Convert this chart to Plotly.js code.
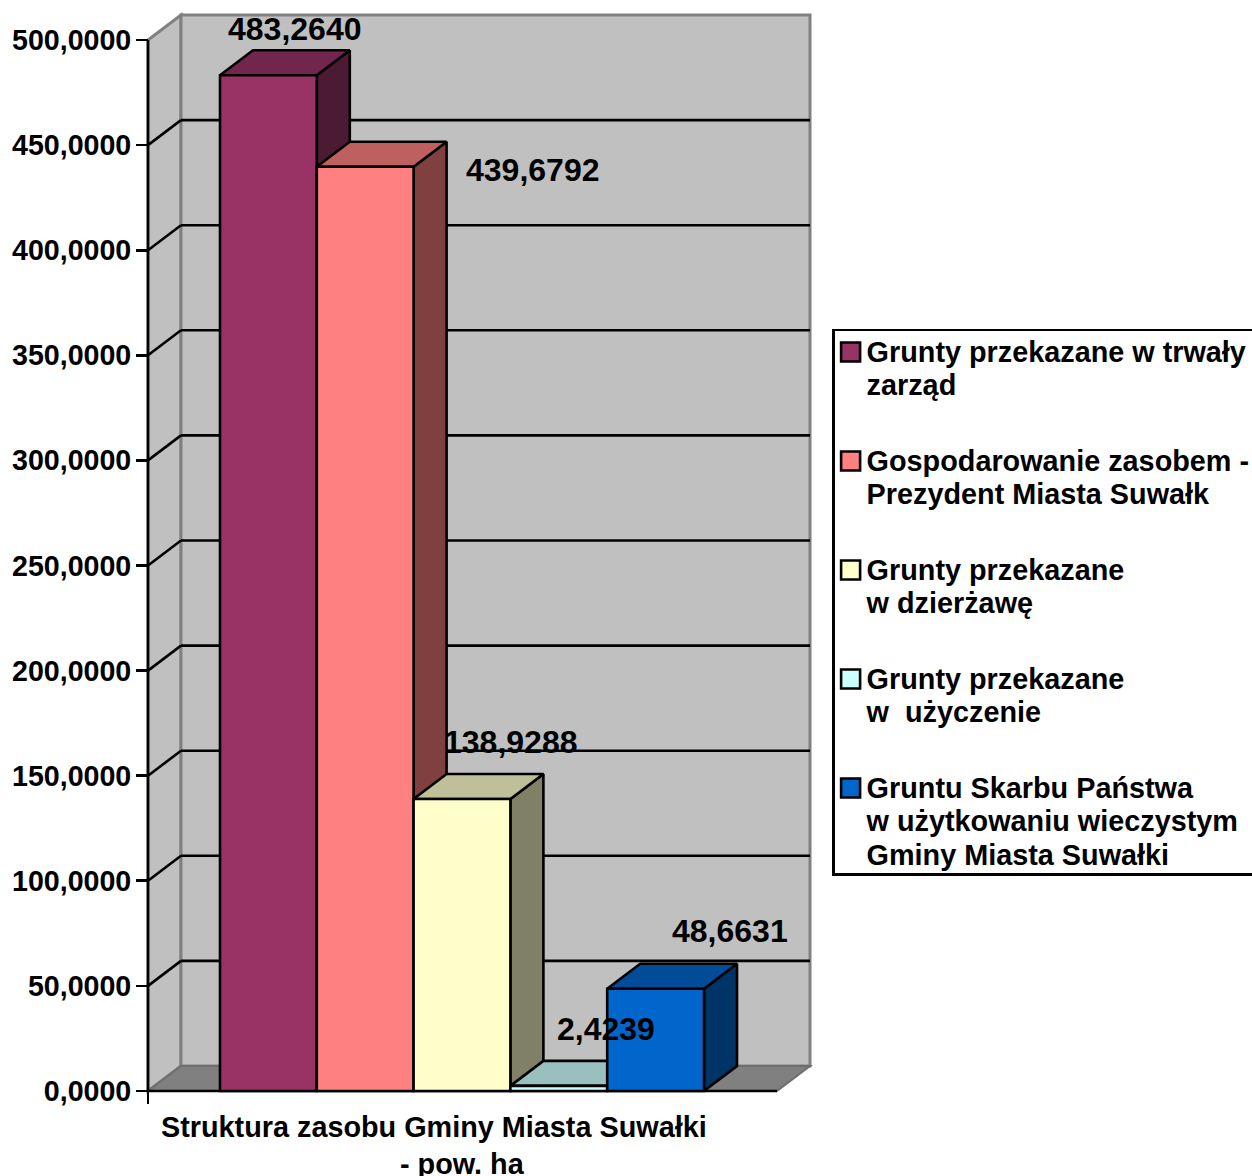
<!DOCTYPE html>
<html>
<head>
<meta charset="utf-8">
<script src="https://cdn.plot.ly/plotly-3.0.1.min.js"></script>
<style>html,body{margin:0;padding:0;background:#fff;overflow:hidden}</style>
</head>
<body>
<div id="chart" style="width:1252px;height:1176px"></div>
<script>
// ---- data ----
const seriesNames = [
  "Grunty przekazane w trwały<br>zarząd",
  "Gospodarowanie zasobem -<br>Prezydent Miasta Suwałk",
  "Grunty przekazane<br>w dzierżawę",
  "Grunty przekazane<br>w\u00A0 użyczenie",
  "Gruntu Skarbu Państwa<br>w użytkowaniu wieczystym<br>Gminy Miasta Suwałki"
];
const seriesValues = [483.2640, 439.6792, 138.9288, 2.4239, 48.6631];
const valueLabels = ["483,2640", "439,6792", "138,9288", "2,4239", "48,6631"];
const tickValues = [0, 50, 100, 150, 200, 250, 300, 350, 400, 450, 500];
const tickLabels = ["0,0000", "50,0000", "100,0000", "150,0000", "200,0000", "250,0000", "300,0000", "350,0000", "400,0000", "450,0000", "500,0000"];
const categoryLines = ["Struktura zasobu Gminy Miasta Suwałki", "- pow. ha"];

// ---- styles ----
const frontColors = ["#993366", "#FF8080", "#FFFFCC", "#CCFFFF", "#0066CC"];
const topColors   = ["#73264D", "#BF6060", "#BFBF99", "#99BFBF", "#004C99"];
const sideColors  = ["#4D1A33", "#804040", "#808066", "#668080", "#003366"];
const FONT = "Liberation Sans, Arial, sans-serif";
const W = 1252, H = 1176, EDGE = 2.6;

// pixel frame of the chart -> axis ranges
const pitch = 96.8, x0px = 268.4, unit = 2.102, basePx = 1091;
const plotL = 140, plotR = 820, plotT = 5, plotB = 1100;
const xv = px => (px - x0px) / pitch;
const yv = px => (basePx - px) / unit;
const DX = 33 / pitch, DY = 25 / unit;
const xL = xv(148), xR = xv(777);
const xRange = [xv(plotL), xv(plotR)], yRange = [yv(plotB), yv(plotT)];
const xDom = [plotL / W, plotR / W], yDom = [1 - plotB / H, 1 - plotT / H];

const poly = (pts, fill, lineColor, lw) => ({
  type: "path", xref: "x", yref: "y", layer: "below",
  path: "M" + pts.map(p => p[0] + "," + p[1]).join("L") + "Z",
  fillcolor: fill, line: {color: lineColor, width: lw}
});
const seg = (x1, y1, x2, y2, color, lw) => ({
  type: "line", xref: "x", yref: "y", layer: "below",
  x0: x1, y0: y1, x1: x2, y1: y2, line: {color: color, width: lw}
});

const maxTick = tickValues[tickValues.length - 1];
const shapes = [
  poly([[xL, 0], [xL + DX, DY], [xL + DX, maxTick + DY], [xL, maxTick]], "#C0C0C0", "#808080", 3),
  poly([[xL + DX, DY], [xR + DX, DY], [xR + DX, maxTick + DY], [xL + DX, maxTick + DY]], "#C0C0C0", "#808080", 3),
  poly([[xL, 0], [xL + DX, DY], [xR + DX, DY], [xR, 0]], "#808080", "#6E6E6E", 2)
];
tickValues.slice(1, -1).forEach(v => {
  shapes.push(seg(xL, v, xL + DX, v + DY, "#000", EDGE));
  shapes.push(seg(xL + DX, v + DY, xR + DX, v + DY, "#000", EDGE));
});
shapes.push(seg(xL, 0, xL, maxTick, "#000", EDGE));
shapes.push(seg(xL, 0, xR, 0, "#000", EDGE));

// side and top faces go first, front faces sit on an overlaying subplot
const traces = [];
const face = (xs, ys, color) => traces.push({
  type: "scatter", mode: "lines", x: xs, y: ys, fill: "toself", fillcolor: color,
  line: {color: "#000", width: EDGE}, showlegend: false, hoverinfo: "skip", xaxis: "x", yaxis: "y"
});
seriesValues.forEach((v, i) => {
  const r = i + 0.5;
  face([r, r + DX, r + DX, r, r], [0, DY, v + DY, v, 0], sideColors[i]);
});
seriesValues.forEach((v, i) => {
  const l = i - 0.5, r = i + 0.5;
  face([l, l + DX, r + DX, r, l], [v, v + DY, v + DY, v, v], topColors[i]);
});
seriesValues.forEach((v, i) => traces.push({
  type: "bar", x: [i], y: [v], width: 1, name: seriesNames[i],
  legendgroup: "g" + i, xaxis: "x2", yaxis: "y2", hoverinfo: "skip",
  marker: {color: frontColors[i], line: {color: "#000", width: EDGE}}
}));

// label offsets from each bar's front-top centre
const labelOffsets = [[26, 46], [167, -3], [48, 57], [47, 57], [74, 58]];
const annotations = seriesValues.map((v, i) => ({
  xref: "x", yref: "y", x: i, y: v, text: valueLabels[i], showarrow: false,
  xanchor: "center", yanchor: "middle",
  xshift: labelOffsets[i][0], yshift: labelOffsets[i][1],
  font: {family: FONT, size: 32, color: "#000", weight: 700}
}));
const categoryX = [434, 462], categoryShift = [-18, -55];
categoryLines.forEach((t, i) => annotations.push({
  xref: "x", yref: "y", x: xv(categoryX[i]), y: 0, text: t, showarrow: false,
  xanchor: "center", yanchor: "top", yshift: categoryShift[i],
  font: {family: FONT, size: 28.8, color: "#000", weight: 700}
}));

const hiddenX = {domain: xDom, range: xRange, visible: false, overlaying: "x", fixedrange: true};
const hiddenY = {domain: yDom, range: yRange, visible: false, overlaying: "y", fixedrange: true};

const layout = {
  width: W, height: H, margin: {l: 0, r: 0, t: 0, b: 0, autoexpand: false},
  paper_bgcolor: "#fff", plot_bgcolor: "rgba(0,0,0,0)",
  barmode: "overlay", showlegend: true, hovermode: false,
  font: {family: FONT, color: "#000"},
  xaxis: {domain: xDom, range: xRange, anchor: "free", position: 1 - basePx / H, showgrid: false, zeroline: false, showline: false,
          tickmode: "array", tickvals: [xL], ticktext: [""], ticks: "outside", ticklen: 12, tickwidth: EDGE, tickcolor: "#000", fixedrange: true},
  yaxis: {domain: yDom, range: yRange, anchor: "free", position: 148 / W, showgrid: false, zeroline: false, showline: false,
          tickmode: "array", tickvals: tickValues, ticktext: tickLabels, ticks: "outside", ticklen: 12, tickwidth: EDGE, tickcolor: "#000",
          ticklabelstandoff: -1,
          tickfont: {family: FONT, size: 28.6, color: "#000", weight: 700}, fixedrange: true},
  xaxis2: hiddenX, yaxis2: hiddenY,
  legend: {x: 832 / W, y: 1 - 328.5 / H, xanchor: "left", yanchor: "top", bgcolor: "#fff", bordercolor: "#000", borderwidth: EDGE,
           traceorder: "grouped", tracegroupgap: 31, font: {family: FONT, size: 28.8, color: "#000", weight: 700}},
  shapes: shapes, annotations: annotations
};

// Legend fine-tuning: line spacing, swatch size, first-line baselines and box height
const legendBaselines = [362, 471, 580, 689, 798];
const legendTextShift = -8, swatchShift = -4, swatchHalf = 9.5, legendBoxHeight = 545;

Plotly.newPlot("chart", traces, layout, {displayModeBar: false, staticPlot: true}).then(gd => {
  gd.querySelectorAll(".legend .traces").forEach((g, i) => {
    const t = g.querySelector(".legendtext");
    const y = legendBaselines[i] - t.getScreenCTM().f;
    const x = parseFloat(t.getAttribute("x")) + legendTextShift;
    t.setAttribute("x", x);
    t.setAttribute("y", y);
    t.querySelectorAll("tspan.line").forEach((s, n) => {
      s.setAttribute("x", x);
      s.setAttribute("y", y);
      s.setAttribute("dy", (n * 1.16) + "em");
    });
    const c = y - 10, l = swatchShift - swatchHalf, r = swatchShift + swatchHalf;
    g.querySelectorAll(".legendpoints path").forEach(p =>
      p.setAttribute("d", `M${r},${c + swatchHalf}H${l}V${c - swatchHalf}H${r}Z`));
  });
  gd.querySelectorAll(".legend rect.bg").forEach(b => b.setAttribute("height", legendBoxHeight));
});
</script>
</body>
</html>
